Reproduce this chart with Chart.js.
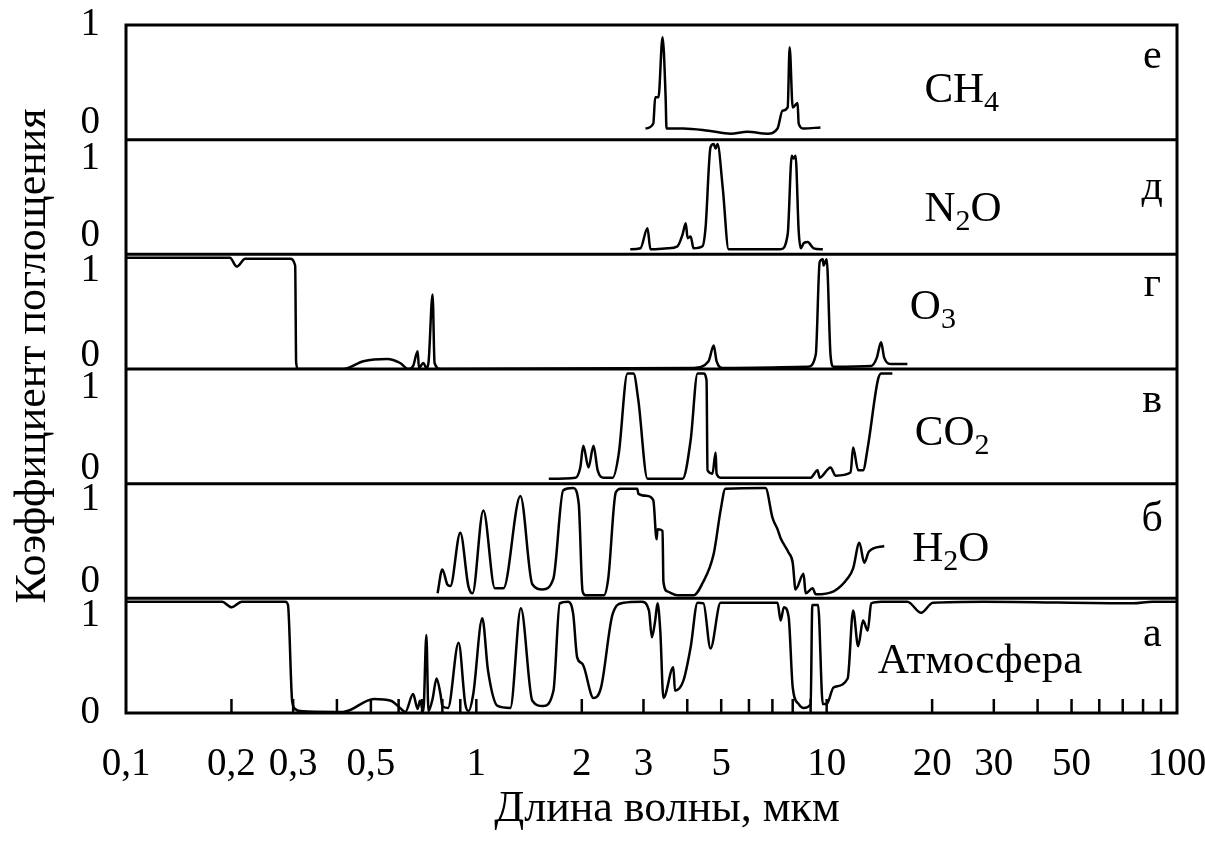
<!DOCTYPE html>
<html>
<head>
<meta charset="utf-8">
<script src="https://cdn.jsdelivr.net/npm/chart.js@4.4.1/dist/chart.umd.min.js"></script>
<style>
  html, body { margin: 0; padding: 0; background: #fff; }
</style>
</head>
<body>
<canvas id="myChart" width="1205" height="842"></canvas>
<script>
// Absorption spectra, wavelength (um) vs absorption coefficient.
const ch4Spectrum = [
  [3.04, 0.1], [3.2, 0.145], [3.24, 0.38], [3.31, 0.38], [3.4, 0.92], [3.47, 0.38],
  [3.49, 0.1], [3.9, 0.1], [4.6, 0.08], [5.32, 0.054], [5.94, 0.07], [6.78, 0.054],
  [7.24, 0.1], [7.48, 0.26], [7.74, 0.29], [7.84, 0.83], [8.0, 0.29], [8.26, 0.33],
  [8.32, 0.145], [8.6, 0.1], [9.6, 0.11],
];
const n2oSpectrum = [
  [2.75, 0.045], [2.94, 0.054], [3.08, 0.235], [3.14, 0.045], [3.51, 0.054], [3.75, 0.072],
  [3.88, 0.18], [3.96, 0.28], [4.01, 0.145], [4.09, 0.16], [4.17, 0.054], [4.42, 0.072],
  [4.51, 0.235], [4.66, 0.96], [4.76, 0.99], [4.82, 0.95], [4.88, 0.99], [5.05, 0.6],
  [5.25, 0.045], [7.39, 0.045], [7.74, 0.18], [7.95, 0.885], [8.05, 0.86], [8.15, 0.885],
  [8.32, 0.21], [8.43, 0.054], [8.6, 0.1], [8.83, 0.11], [9.18, 0.054], [9.75, 0.045],
];
const o3Spectrum = [
  [0.1, 1.0], [0.198, 1.0], [0.207, 0.92], [0.219, 0.99], [0.294, 0.99], [0.304, 0.93],
  [0.306, 0.054], [0.31, 0], [0.417, 0], [0.476, 0.07], [0.557, 0.09], [0.606, 0.054],
  [0.64, 0], [0.66, 0.027], [0.68, 0.16], [0.686, 0.01], [0.706, 0.054], [0.72, 0.01],
  [0.73, 0.054], [0.75, 0.67], [0.76, 0.054], [0.79, 0], [4.17, 0.01], [4.6, 0.07],
  [4.76, 0.21], [4.85, 0.07], [5.05, 0.01], [8.83, 0.02], [9.31, 0.13], [9.55, 0.96],
  [9.75, 0.985], [9.8, 0.93], [10.0, 0.985], [10.26, 0.12], [10.47, 0.02], [13.4, 0.027],
  [13.9, 0.1], [14.3, 0.24], [14.6, 0.1], [15.3, 0.045], [17.0, 0.045],
];
const co2Spectrum = [
  [1.61, 0.045], [1.92, 0.054], [1.98, 0.145], [2.02, 0.34], [2.09, 0.145], [2.16, 0.34],
  [2.22, 0.12], [2.31, 0.054], [2.45, 0.054], [2.55, 0.27], [2.7, 0.99], [2.81, 0.99],
  [2.9, 0.75], [3.08, 0.045], [3.88, 0.045], [4.09, 0.39], [4.28, 0.99], [4.45, 0.99],
  [4.54, 0.93], [4.57, 0.12], [4.72, 0.09], [4.82, 0.28], [4.85, 0.09], [4.98, 0.054],
  [9.0, 0.054], [9.42, 0.12], [9.55, 0.054], [10.26, 0.145], [10.6, 0.072], [11.7, 0.1],
  [11.9, 0.325], [12.3, 0.12], [12.7, 0.12], [13.1, 0.325], [14.0, 0.93], [14.3, 0.99],
  [15.4, 0.99],
];
const h2oSpectrum = [
  [0.775, 0.045], [0.8, 0.26], [0.826, 0.126], [0.843, 0.11], [0.9, 0.59], [0.949, 0.11],
  [0.975, 0.045], [1.047, 0.79], [1.13, 0.09], [1.195, 0.09], [1.336, 0.92], [1.445, 0.126],
  [1.545, 0.08], [1.66, 0.18], [1.77, 0.97], [1.89, 0.99], [1.96, 0.85], [2.01, 0.063],
  [2.05, 0.027], [2.31, 0.027], [2.38, 0.18], [2.5, 0.95], [2.58, 0.985], [2.88, 0.985],
  [2.9, 0.94], [3.08, 0.92], [3.2, 0.88], [3.27, 0.53], [3.29, 0.62], [3.4, 0.605],
  [3.42, 0.15], [3.51, 0.063], [3.75, 0.027], [4.17, 0.027], [4.42, 0.135], [4.76, 0.4],
  [4.98, 0.79], [5.14, 0.985], [6.69, 0.99], [7.01, 0.72], [7.24, 0.62], [7.39, 0.54],
  [7.79, 0.41], [8.0, 0.32], [8.15, 0.08], [8.59, 0.22], [8.71, 0.045], [9.12, 0.09],
  [9.31, 0.036], [10.47, 0.063], [11.48, 0.18], [11.9, 0.27], [12.4, 0.5], [12.8, 0.32],
  [13.2, 0.42], [14.6, 0.47],
];
const atmSpectrum = [
  [0.1, 1.0], [0.143, 1.0], [0.188, 1.0], [0.2, 0.95], [0.214, 1.0], [0.285, 1.0],
  [0.29, 0.97], [0.298, 0.11], [0.304, 0.036], [0.314, 0.018], [0.4, 0.01], [0.417, 0.01],
  [0.51, 0.126], [0.57, 0.11], [0.606, 0.045], [0.627, 0.01], [0.66, 0.17], [0.68, 0.036],
  [0.69, 0.11], [0.706, 0.018], [0.72, 0.7], [0.73, 0.018], [0.75, 0.126], [0.77, 0.31],
  [0.79, 0.17], [0.8, 0.063], [0.83, 0.045], [0.89, 0.63], [0.93, 0.08], [0.95, 0.018],
  [0.98, 0.17], [1.04, 0.85], [1.08, 0.38], [1.15, 0.063], [1.25, 0.045], [1.34, 0.94],
  [1.445, 0.11], [1.55, 0.063], [1.66, 0.2], [1.73, 0.985], [1.83, 1.0], [1.89, 0.89],
  [1.94, 0.5], [2.01, 0.44], [2.16, 0.135], [2.27, 0.23], [2.45, 0.89], [2.63, 0.99],
  [2.96, 1.0], [3.11, 0.92], [3.17, 0.68], [3.24, 0.83], [3.29, 0.985], [3.35, 0.74],
  [3.42, 0.135], [3.65, 0.41], [3.69, 0.2], [3.9, 0.29], [4.09, 0.59], [4.28, 0.99],
  [4.45, 0.985], [4.66, 0.58], [4.98, 0.99], [7.24, 0.99], [7.39, 0.83], [7.55, 0.95],
  [7.79, 0.86], [8.0, 0.23], [8.32, 0.08], [8.59, 0.045], [9.0, 0.08], [9.1, 0.97],
  [9.45, 0.97], [9.75, 0.08], [10.0, 0.08], [10.47, 0.23], [11.48, 0.31], [11.9, 0.92],
  [12.3, 0.6], [12.7, 0.83], [13.1, 0.74], [13.4, 0.985], [14.3, 1.0], [17.0, 1.0],
  [18.6, 0.9], [20.1, 0.99], [28.0, 1.0], [75, 0.985], [85, 1.0], [100, 1.0],
];

// panels, top to bottom
const panelNames = ["CH_4", "N_2O", "O_3", "CO_2", "H_2O", "Атмосфера"];
const panelLetters = ["е", "д", "г", "в", "б", "а"];
const panelSpectra = [ch4Spectrum, n2oSpectrum, o3Spectrum, co2Spectrum, h2oSpectrum, atmSpectrum];

const xTickValues = [0.1, 0.2, 0.3, 0.5, 1, 2, 3, 5, 10, 20, 30, 50, 100];
const xTickLabels = ["0,1", "0,2", "0,3", "0,5", "1", "2", "3", "5", "10", "20", "30", "50", "100"];
const xMinorMarks = [0.2, 0.3, 0.4, 0.5, 0.6, 0.7, 0.8, 0.9, 1, 2, 3, 4, 5, 6, 7, 8, 9, 10, 20, 30, 40, 50, 60, 70, 80, 90];
const yTickLabels = ["0", "1"];

// layout only: where "0"/"1" labels sit in each panel, and where the texts go
const yLabelAt = [[0.15, 1.03], [0.17, 0.86], [0.12, 0.885], [0.135, 0.86], [0.145, 0.89], [0, 0.876]];
const nameAt = [[24.3, 0.334], [24.5, 0.3], [20.1, 0.45], [22.8, 0.343], [22.6, 0.334], [27.4, 0.36]];
const letterAt = [85, [0.64, 0.5, 0.66, 0.64, 0.605, 0.605]];

const serif = '"Liberation Serif", "Times New Roman", serif';
const panelIds = ["yE", "yD", "yG", "yV", "yB", "yA"];

const panelAxis = (i) => ({
  type: "linear",
  position: "left",
  stack: "panels",
  stackWeight: 1,
  min: 0,
  max: 1.03,
  grid: { display: false, drawTicks: false },
  border: { display: false },
  afterBuildTicks: (axis) => {
    axis.ticks = yLabelAt[i].map((v) => ({ value: v }));
  },
  afterFit: (axis) => {
    axis.width = 126;
    axis.paddingTop = 0;
    axis.paddingBottom = 0;
  },
  ticks: {
    padding: 26,
    color: "#000",
    font: { family: serif, size: 39 },
    callback: (value, index) => yTickLabels[index],
  },
});

// chart.js puts the last stacked left axis on top, so add them bottom-up
const scales = {
  x: {
    type: "logarithmic",
    min: 0.1,
    max: 100,
    grid: { display: false, drawTicks: false },
    border: { display: false },
    afterBuildTicks: (axis) => {
      axis.ticks = xTickValues.map((v) => ({ value: v }));
    },
    afterFit: (axis) => {
      axis.height = 129;
      axis.paddingLeft = 0;
      axis.paddingRight = 0;
    },
    ticks: {
      autoSkip: false,
      maxRotation: 0,
      padding: 28,
      color: "#000",
      font: { family: serif, size: 39 },
      callback: (value, index) => xTickLabels[index],
    },
  },
};
for (let i = panelIds.length - 1; i >= 0; i--) {
  scales[panelIds[i]] = panelAxis(i);
}

// frame, panel separators and inner tick marks
const framePlugin = {
  id: "frame",
  afterDatasetsDraw(chart) {
    const { ctx, chartArea: a } = chart;
    ctx.save();
    ctx.strokeStyle = "#000";
    ctx.lineWidth = 3;
    ctx.strokeRect(a.left, a.top, a.right - a.left, a.bottom - a.top);
    ctx.beginPath();
    panelIds.slice(0, -1).forEach((id) => {
      const y = chart.scales[id].bottom;
      ctx.moveTo(a.left, y);
      ctx.lineTo(a.right, y);
    });
    ctx.stroke();
    ctx.lineWidth = 2.5;
    ctx.beginPath();
    xMinorMarks.forEach((v) => {
      const px = chart.scales.x.getPixelForValue(v);
      ctx.moveTo(px, a.bottom);
      ctx.lineTo(px, a.bottom - 14);
    });
    ctx.stroke();
    ctx.restore();
  },
};

// draws "CO_2" style text, the char after "_" is a subscript
function drawFormula(ctx, text, cx, baseY, size) {
  const parts = [];
  for (let k = 0; k < text.length; k++) {
    if (text[k] === "_") {
      parts.push({ t: text[k + 1], sub: true });
      k++;
    } else {
      const last = parts[parts.length - 1];
      if (last && !last.sub) last.t += text[k];
      else parts.push({ t: text[k], sub: false });
    }
  }
  const mainFont = size + "px " + serif;
  const subFont = Math.round(size * 0.7) + "px " + serif;
  let total = 0;
  parts.forEach((p) => {
    ctx.font = p.sub ? subFont : mainFont;
    p.w = ctx.measureText(p.t).width;
    total += p.w;
  });
  let x = cx - total / 2;
  parts.forEach((p) => {
    ctx.font = p.sub ? subFont : mainFont;
    ctx.fillText(p.t, x, p.sub ? baseY + size * 0.2 : baseY);
    x += p.w;
  });
}

const textPlugin = {
  id: "texts",
  afterDraw(chart) {
    const { ctx, scales: s } = chart;
    ctx.save();
    ctx.fillStyle = "#000";
    ctx.textAlign = "left";
    ctx.textBaseline = "alphabetic";
    panelIds.forEach((id, i) => {
      drawFormula(ctx, panelNames[i], s.x.getPixelForValue(nameAt[i][0]), s[id].getPixelForValue(nameAt[i][1]), 43);
      drawFormula(ctx, panelLetters[i], s.x.getPixelForValue(letterAt[0]), s[id].getPixelForValue(letterAt[1][i]), 42);
    });
    ctx.font = "44px " + serif;
    ctx.textAlign = "center";
    ctx.fillText("Длина волны, мкм", 667, 821);
    ctx.translate(45, 356);
    ctx.rotate(-Math.PI / 2);
    ctx.fillText("Коэффициент поглощения", 0, 0);
    ctx.restore();
  },
};

const ctx = document.getElementById("myChart");
new Chart(ctx, {
  type: "line",
  data: {
    datasets: panelSpectra.map((spec, i) => ({
      label: panelNames[i],
      data: spec.map((p) => ({ x: p[0], y: p[1] })),
      yAxisID: panelIds[i],
      borderColor: "#000",
      borderWidth: 2.5,
      pointRadius: 0,
      cubicInterpolationMode: "monotone",
      fill: false,
    })),
  },
  options: {
    responsive: false,
    devicePixelRatio: 1,
    animation: false,
    layout: { padding: { top: 25, right: 28, left: 0, bottom: 0 } },
    plugins: { legend: { display: false }, tooltip: { enabled: false } },
    scales: scales,
  },
  plugins: [framePlugin, textPlugin],
});
</script>
</body>
</html>
